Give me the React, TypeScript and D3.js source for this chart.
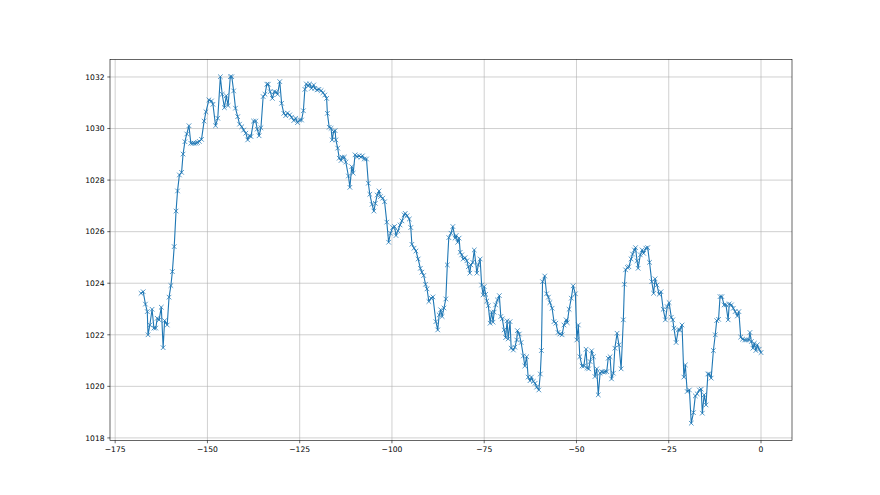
import React from "react";
import * as d3 from "d3";

const hours: number[] = [
  -168.0, -167.4, -166.8, -166.3, -166.1, -165.6, -165.0, -164.5, -164.0, -163.6,
  -163.1, -162.5, -162.0, -161.6, -160.9, -160.4, -159.9, -159.5, -159.0, -158.5,
  -158.1, -157.6, -157.0, -156.6, -156.1, -155.6, -155.0, -154.5, -154.0, -153.6,
  -153.1, -152.7, -152.2, -151.6, -150.9, -150.4, -149.6, -148.9, -148.5, -147.8,
  -147.2, -146.5, -146.0, -145.4, -144.9, -144.4, -143.8, -143.4, -142.9, -142.4,
  -141.8, -141.3, -140.7, -140.2, -139.6, -139.1, -138.6, -138.2, -137.5, -136.9,
  -136.5, -136.0, -135.5, -134.9, -134.4, -133.9, -133.5, -133.0, -132.4, -131.9,
  -131.4, -131.0, -130.4, -129.9, -129.3, -128.8, -128.3, -127.7, -127.2, -126.6,
  -126.1, -125.6, -125.0, -124.5, -124.0, -123.6, -123.2, -122.7, -122.3, -121.8,
  -121.2, -120.9, -120.3, -119.8, -119.2, -118.7, -118.2, -117.7, -117.5, -117.0,
  -116.5, -116.2, -115.8, -115.4, -115.2, -114.7, -114.3, -113.8, -113.5, -112.9,
  -112.5, -111.8, -111.4, -110.9, -110.5, -110.0, -109.5, -108.9, -108.4, -108.0,
  -107.5, -106.9, -106.4, -106.0, -105.4, -104.9, -104.5, -104.0, -103.5, -103.1,
  -102.5, -102.0, -101.4, -100.9, -100.4, -99.8, -99.3, -98.9, -98.4, -97.8,
  -97.3, -96.7, -96.4, -95.9, -95.3, -94.9, -94.6, -94.0, -93.5, -92.9,
  -92.3, -91.9, -91.4, -90.9, -90.5, -90.0, -89.4, -88.9, -88.1, -87.6,
  -87.2, -86.8, -86.4, -85.9, -85.4, -85.0, -84.6, -84.0, -83.5, -82.9,
  -82.6, -82.2, -81.8, -81.5, -81.1, -80.7, -80.2, -79.7, -79.3, -78.9,
  -78.6, -78.1, -77.7, -77.0, -76.6, -76.1, -75.7, -75.3, -75.0, -74.6,
  -74.3, -73.9, -73.4, -73.0, -72.6, -72.3, -71.9, -71.4, -70.9, -70.5,
  -70.1, -69.6, -69.2, -68.8, -68.5, -68.0, -67.7, -67.1, -66.7, -66.2,
  -66.0, -65.5, -65.0, -64.4, -64.0, -63.5, -63.1, -62.6, -62.2, -61.7,
  -61.2, -60.8, -60.2, -59.8, -59.5, -59.2, -58.6, -58.1, -57.6, -57.2,
  -56.6, -56.1, -55.6, -55.0, -54.5, -53.9, -53.4, -52.8, -52.5, -52.0,
  -51.4, -50.9, -50.3, -49.9, -49.5, -49.1, -48.5, -48.0, -47.4, -47.1,
  -46.7, -46.3, -45.9, -45.4, -45.0, -44.5, -44.1, -43.6, -43.2, -42.7,
  -42.3, -41.8, -41.4, -40.9, -40.5, -40.0, -39.6, -39.0, -38.5, -37.9,
  -37.3, -37.0, -36.7, -36.2, -35.8, -35.2, -34.8, -34.3, -34.0, -33.6,
  -33.3, -32.7, -32.2, -31.8, -31.2, -30.7, -30.2, -29.6, -29.1, -28.7,
  -28.2, -27.6, -27.1, -26.5, -25.9, -25.4, -24.9, -24.3, -23.9, -23.6,
  -23.0, -22.4, -22.0, -21.4, -20.9, -20.5, -20.0, -19.4, -18.9, -18.3,
  -17.8, -17.3, -16.7, -16.2, -15.9, -15.4, -14.9, -14.4, -14.0, -13.5,
  -12.9, -12.4, -12.0, -11.5, -11.1, -10.6, -10.0, -9.5, -8.9, -8.6,
  -8.0, -7.5, -7.0, -6.4, -6.0, -5.5, -5.0, -4.4, -3.9, -3.3,
  -3.0, -2.6, -2.2, -1.8, -1.4, -1.0, -0.5, 0.0,
];

const pressure: number[] = [
  1023.61, 1023.67, 1023.19, 1022.9, 1022.0, 1022.38, 1022.99, 1022.26, 1022.26, 1022.64,
  1022.58, 1023.07, 1021.5, 1022.55, 1022.38, 1023.46, 1023.91, 1024.45, 1025.42, 1026.8,
  1027.58, 1028.2, 1028.3, 1029.01, 1029.49, 1029.79, 1030.11, 1029.43, 1029.43, 1029.43,
  1029.43, 1029.46, 1029.5, 1029.58, 1030.29, 1030.65, 1031.11, 1031.07, 1030.94, 1030.11,
  1030.4, 1032.01, 1031.33, 1030.81, 1031.27, 1030.89, 1032.01, 1032.01, 1031.46, 1030.79,
  1030.46, 1030.17, 1030.07, 1029.94, 1029.82, 1029.56, 1029.72, 1029.69, 1030.29, 1030.29,
  1029.98, 1029.72, 1030.03, 1031.24, 1031.33, 1031.72, 1031.72, 1031.43, 1031.17, 1031.43,
  1031.41, 1031.33, 1031.82, 1030.98, 1030.59, 1030.5, 1030.6, 1030.53, 1030.44, 1030.31,
  1030.4, 1030.23, 1030.33, 1030.33, 1030.69, 1031.52, 1031.73, 1031.65, 1031.73, 1031.56,
  1031.69, 1031.56, 1031.5, 1031.52, 1031.47, 1031.39, 1031.3, 1031.17, 1030.59, 1030.05,
  1030.01, 1029.56, 1029.88, 1029.92, 1029.56, 1029.24, 1028.85, 1028.76, 1028.89, 1028.89,
  1028.7, 1028.16, 1027.72, 1028.52, 1028.27, 1028.98, 1028.91, 1028.94, 1028.89, 1028.94,
  1028.82, 1028.82, 1027.88, 1027.45, 1027.06, 1026.8, 1027.1, 1027.42, 1027.58, 1027.36,
  1027.3, 1027.16, 1026.37, 1025.59, 1025.94, 1026.16, 1026.2, 1025.85, 1026.03, 1026.26,
  1026.42, 1026.65, 1026.71, 1026.62, 1026.49, 1026.16, 1025.51, 1025.36, 1025.25, 1024.94,
  1024.58, 1024.43, 1024.3, 1023.96, 1023.78, 1023.29, 1023.42, 1023.47, 1022.51, 1022.19,
  1022.77, 1022.97, 1022.71, 1023.04, 1023.39, 1024.71, 1025.77, 1025.94, 1026.2, 1025.75,
  1025.85, 1025.59, 1025.75, 1025.2, 1025.1, 1024.94, 1024.99, 1024.87, 1024.64, 1024.39,
  1024.71, 1024.81, 1025.29, 1024.39, 1024.71, 1024.94, 1023.93, 1023.55, 1023.87, 1023.57,
  1023.31, 1023.13, 1022.45, 1022.88, 1022.49, 1022.88, 1023.16, 1023.35, 1023.52, 1022.71,
  1022.62, 1022.19, 1021.89, 1022.54, 1021.84, 1022.51, 1021.48, 1021.41, 1021.52, 1021.8,
  1022.16, 1022.03, 1021.7, 1021.18, 1020.79, 1021.15, 1020.36, 1020.22, 1020.36, 1020.19,
  1020.12, 1019.97, 1019.86, 1020.48, 1021.39, 1024.06, 1024.28, 1023.59, 1023.46, 1023.25,
  1023.03, 1022.51, 1022.45, 1022.09, 1022.03, 1022.0, 1022.38, 1022.58, 1022.47, 1022.99,
  1023.42, 1023.9, 1023.59, 1021.8, 1022.38, 1021.15, 1020.79, 1020.79, 1021.44, 1020.71,
  1020.68, 1020.96, 1021.38, 1021.15, 1020.38, 1020.68, 1019.67, 1020.51, 1020.57, 1020.55,
  1020.57, 1020.57, 1021.09, 1021.15, 1020.29, 1020.51, 1021.48, 1022.06, 1021.61, 1020.68,
  1022.58, 1023.96, 1024.52, 1024.61, 1024.64, 1024.94, 1025.13, 1025.29, 1025.38, 1024.87,
  1024.58, 1025.1, 1025.29, 1025.16, 1025.36, 1025.38, 1024.81, 1024.06, 1023.61, 1024.17,
  1023.93, 1023.57, 1023.67, 1022.99, 1022.58, 1023.09, 1023.25, 1022.68, 1022.58, 1022.26,
  1021.7, 1022.19, 1022.19, 1022.38, 1020.36, 1020.83, 1019.8, 1019.86, 1018.57, 1018.98,
  1019.63, 1019.71, 1019.86, 1019.89, 1018.96, 1019.67, 1019.28, 1020.48, 1020.48, 1020.32,
  1021.39, 1022.0, 1022.55, 1022.6, 1023.48, 1023.48, 1023.16, 1023.16, 1022.58, 1023.2,
  1023.16, 1023.03, 1022.9, 1022.73, 1022.9, 1021.91, 1021.83, 1021.8, 1021.8, 1021.8,
  1022.09, 1021.74, 1021.48, 1021.67, 1021.39, 1021.61, 1021.44, 1021.31,
];

const xTicks: number[] = [-175, -150, -125, -100, -75, -50, -25, 0];
const yTicks: number[] = [1018, 1020, 1022, 1024, 1026, 1028, 1030, 1032];

const W = 880;
const H = 495;
const M = { left: 110, right: 88, top: 59.4, bottom: 54.45 };
const COLOR = "#1f77b4";
const FONT = "'DejaVu Sans', sans-serif";

export default function App() {
  const points = hours.map((h, i) => [h, pressure[i]] as [number, number]);
  const [x0, x1] = d3.extent(hours) as [number, number];
  const [y0, y1] = d3.extent(pressure) as [number, number];
  const xm = (x1 - x0) * 0.05;
  const ym = (y1 - y0) * 0.05;
  const x = d3.scaleLinear().domain([x0 - xm, x1 + xm]).range([M.left, W - M.right]);
  const y = d3.scaleLinear().domain([y0 - ym, y1 + ym]).range([H - M.bottom, M.top]);
  const line = d3
    .line<[number, number]>()
    .x((d) => x(d[0]))
    .y((d) => y(d[1]));
  const fmt = d3.format("d");
  const ms = 2.3;
  const tickLen = 2.7;
  const gridW = 0.6;

  return (
    <svg
      width={W}
      height={H}
      style={{ position: "absolute", left: 0, top: 0, display: "block", background: "#fff" }}
    >
      <rect x={0} y={0} width={W} height={H} fill="#fff" />
      <g>
        {xTicks.map((t) => (
          <line key={"gx" + t} x1={x(t)} x2={x(t)} y1={M.top} y2={H - M.bottom} stroke="#b0b0b0" strokeWidth={gridW} />
        ))}
        {yTicks.map((t) => (
          <line key={"gy" + t} x1={M.left} x2={W - M.right} y1={y(t)} y2={y(t)} stroke="#b0b0b0" strokeWidth={gridW} />
        ))}
      </g>
      <path d={line(points) || ""} fill="none" stroke={COLOR} strokeWidth={1.1} strokeLinejoin="round" strokeLinecap="square" />
      <g stroke={COLOR} strokeWidth={0.75}>
        {points.map((p, i) => {
          const cx = x(p[0]);
          const cy = y(p[1]);
          return (
            <path key={i} d={`M${cx - ms},${cy - ms}L${cx + ms},${cy + ms}M${cx - ms},${cy + ms}L${cx + ms},${cy - ms}`} />
          );
        })}
      </g>
      <rect
        x={M.left}
        y={M.top}
        width={W - M.left - M.right}
        height={H - M.top - M.bottom}
        fill="none"
        stroke="#000"
        strokeWidth={0.6}
      />
      <g fontFamily={FONT} fontSize={7.6} fill="#000">
        {xTicks.map((t) => (
          <g key={"xt" + t}>
            <line x1={x(t)} x2={x(t)} y1={H - M.bottom} y2={H - M.bottom + tickLen} stroke="#000" strokeWidth={0.6} />
            <text x={x(t)} y={H - M.bottom + tickLen + 2.7} dy="0.76em" textAnchor="middle">
              {fmt(t)}
            </text>
          </g>
        ))}
        {yTicks.map((t) => (
          <g key={"yt" + t}>
            <line x1={M.left - tickLen} x2={M.left} y1={y(t)} y2={y(t)} stroke="#000" strokeWidth={0.6} />
            <text x={M.left - tickLen - 2.7} y={y(t)} dy="0.36em" textAnchor="end">
              {fmt(t)}
            </text>
          </g>
        ))}
      </g>
    </svg>
  );
}
